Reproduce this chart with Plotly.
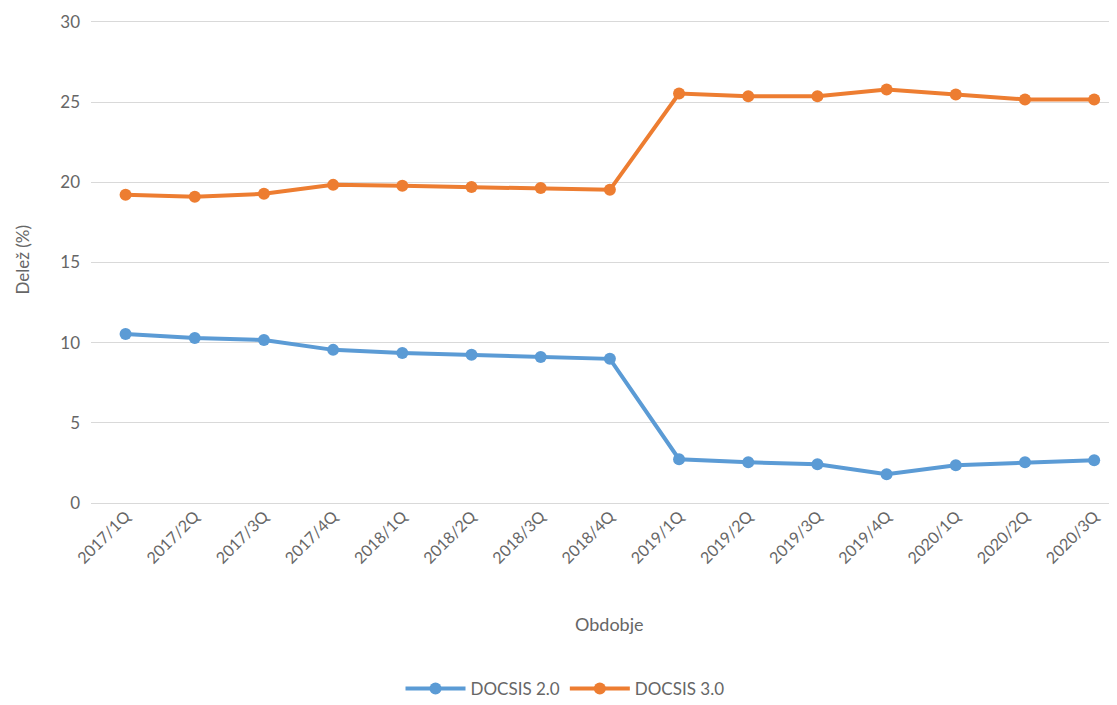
import plotly.graph_objects as go

periods = ["2017/1Q", "2017/2Q", "2017/3Q", "2017/4Q", "2018/1Q", "2018/2Q", "2018/3Q", "2018/4Q",
           "2019/1Q", "2019/2Q", "2019/3Q", "2019/4Q", "2020/1Q", "2020/2Q", "2020/3Q"]
docsis20 = [10.54, 10.29, 10.17, 9.55, 9.36, 9.24, 9.11, 8.99, 2.73, 2.54, 2.42, 1.80, 2.36, 2.54, 2.67]
docsis30 = [19.22, 19.10, 19.28, 19.84, 19.78, 19.71, 19.65, 19.53, 25.54, 25.36, 25.36, 25.79, 25.48, 25.17, 25.17]
y_ticks = [0, 5, 10, 15, 20, 25, 30]

font_family = "Lato, 'Open Sans', sans-serif"
gray = "#666666"

# plot area in figure pixels: top 3, bottom 495 (height 492); 16.133 px per unit
plot_top, plot_bottom = 3, 495
plot_h = plot_bottom - plot_top
y_top = plot_h / (484 / 30)


def py(fig_y):
    return (plot_bottom - fig_y) / plot_h


fig = go.Figure()
fig.add_trace(go.Scatter(x=list(range(len(periods))), y=docsis20, name="DOCSIS 2.0",
                         mode="lines+markers", line=dict(color="#5B9BD5", width=4),
                         marker=dict(size=12, color="#5B9BD5")))
fig.add_trace(go.Scatter(x=list(range(len(periods))), y=docsis30, name="DOCSIS 3.0",
                         mode="lines+markers", line=dict(color="#ED7D31", width=4),
                         marker=dict(size=12, color="#ED7D31")))

fig.update_layout(
    width=1117, height=705,
    margin=dict(l=83, r=8, t=plot_top, b=705 - plot_bottom),
    paper_bgcolor="white", plot_bgcolor="white",
    font=dict(family=font_family, color=gray, size=16),
    showlegend=True,
    legend=dict(orientation="h", x=0.462, xanchor="center", y=py(682), yanchor="middle",
                font=dict(size=17, color=gray), itemwidth=60),
    xaxis=dict(tickmode="array", tickvals=list(range(len(periods))), ticktext=periods,
               range=[-0.5, 14.33], tickangle=-45, showgrid=False, zeroline=False,
               showline=False, tickfont=dict(size=16, color=gray)),
    yaxis=dict(range=[0, y_top], tickmode="array", tickvals=y_ticks,
               showgrid=True, gridcolor="#D9D9D9", gridwidth=1,
               zeroline=True, zerolinecolor="#D9D9D9", zerolinewidth=1,
               tickfont=dict(size=17, color=gray), ticklabelstandoff=10,
               ticklabeloverflow="allow"),
    annotations=[
        dict(text="Obdobje", xref="paper", yref="paper", x=0.505, y=py(617),
             showarrow=False, font=dict(size=18, color=gray), xanchor="center", yanchor="middle"),
        dict(text="Delež (%)", xref="paper", yref="paper", x=(22 - 91) / 1026, y=py(250),
             showarrow=False, textangle=-90, font=dict(size=17, color=gray),
             xanchor="center", yanchor="middle"),
    ],
)

fig.write_html("out.html")
